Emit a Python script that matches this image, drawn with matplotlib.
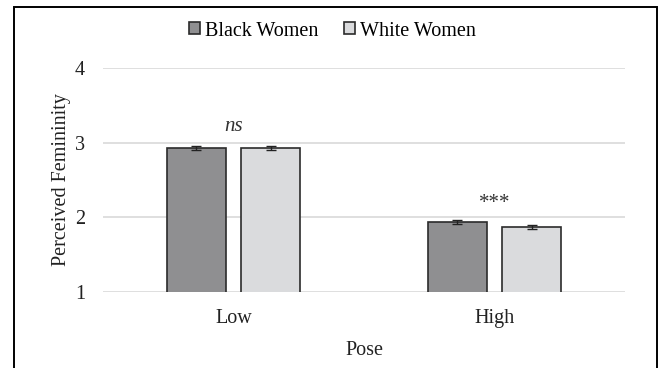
import numpy as np
import matplotlib.pyplot as plt
from matplotlib.patches import Rectangle

poses = ["Low", "High"]
groups = ["Black Women", "White Women"]
black_means = [2.93, 1.94]
white_means = [2.93, 1.87]
black_err = [0.03, 0.025]
white_err = [0.03, 0.025]
sig_labels = ["ns", "***"]
sig_y = [3.22, 2.19]

plt.rcParams["font.family"] = ["Liberation Serif", "DejaVu Serif"]
FS = 14.5

fig = plt.figure(figsize=(6.59, 3.68), dpi=100)
ax = fig.add_axes([103 / 659, 1 - 292 / 368, 522 / 659, 224 / 368])

x = np.arange(len(poses))
w = 0.226
off = 0.142
ax.bar(x - off, black_means, w, color="#8f8f91", edgecolor="#2b2b2b",
       lw=1.2, label=groups[0], zorder=3,
       yerr=black_err, error_kw=dict(ecolor="#222222", capsize=3.5, elinewidth=1, capthick=1))
ax.bar(x + off, white_means, w, color="#dadbdd", edgecolor="#2b2b2b",
       lw=1.2, label=groups[1], zorder=3,
       yerr=white_err, error_kw=dict(ecolor="#222222", capsize=3.5, elinewidth=1, capthick=1))

for xi, lab, yy in zip(x, sig_labels, sig_y):
    ax.text(xi, yy, lab, ha="center", va="center", fontsize=15,
            style="italic" if lab == "ns" else "normal", color="#333333")

ax.set_ylim(1, 4)
ax.set_xlim(-0.5, 1.5)
ax.set_yticks([1, 2, 3, 4])
ax.set_xticks(x)
ax.set_xticklabels(poses)
ax.tick_params(length=0, labelsize=FS, colors="#222222")
ax.tick_params(axis="y", pad=13)
ax.tick_params(axis="x", pad=12)
ax.yaxis.grid(True, color="#d9d9d9", lw=1.2, zorder=0)
ax.set_axisbelow(True)
for s in ax.spines.values():
    s.set_visible(False)
ax.set_ylabel("Perceived Femininity", fontsize=FS, color="#222222", labelpad=3)
ax.set_xlabel("Pose", fontsize=FS, color="#222222", labelpad=9.5)

ax.legend(loc="center", bbox_to_anchor=(332.5 / 659, 1 - 31 / 368), bbox_transform=fig.transFigure,
          ncol=2, frameon=False, fontsize=FS, handlelength=0.55, handleheight=0.55,
          handletextpad=0.25, columnspacing=1.3)

fig.patches.append(Rectangle((14 / 659, -0.05), 643 / 659, 1.05 - 7 / 368,
                             transform=fig.transFigure,
                             fill=False, edgecolor="black", lw=1.4))

fig.savefig("out.png", dpi=100)
